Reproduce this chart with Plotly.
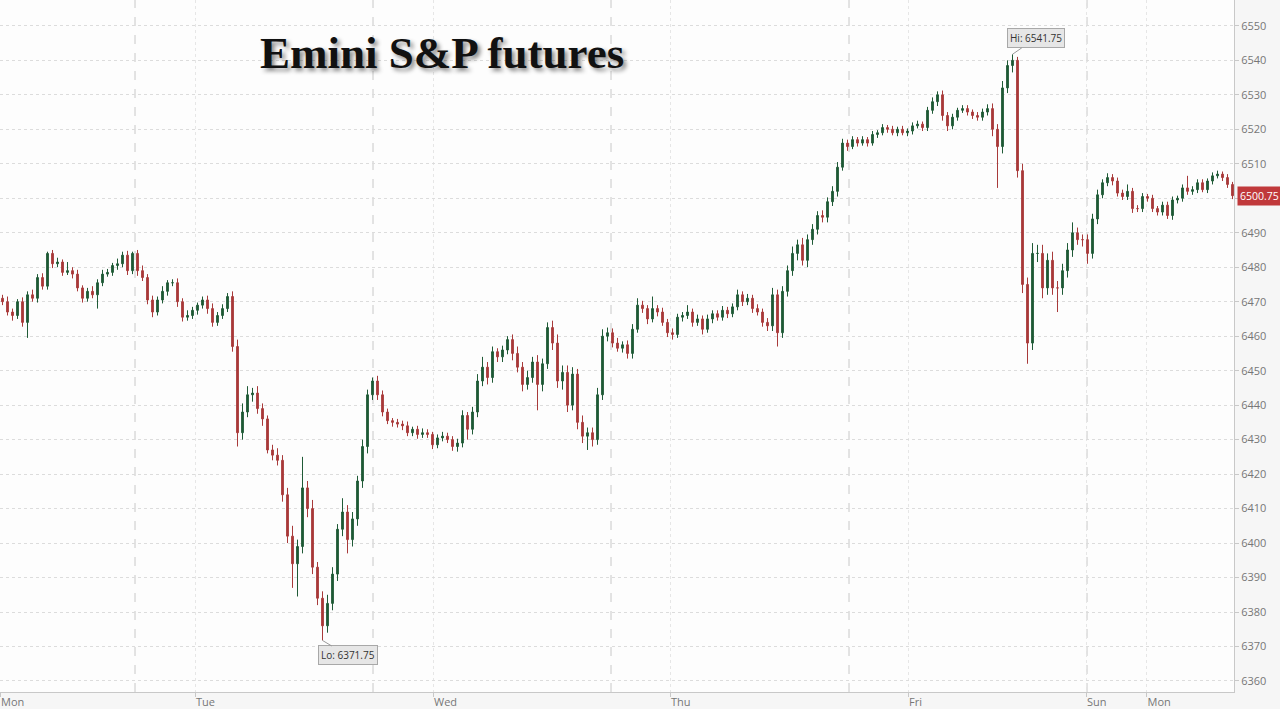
import plotly.graph_objects as go

# ---------------- data ----------------
first_open = 6471.0
close = [
    6470, 6467, 6466, 6470, 6464, 6472, 6471, 6477, 6474.5, 6484,
    6481, 6481.5, 6478.5, 6479, 6478, 6474, 6471, 6473, 6472, 6475.5,
    6478, 6478.5, 6480.5, 6481, 6483.5, 6479, 6484, 6479, 6477, 6470.5,
    6467, 6470.5, 6473, 6475.5, 6475.5, 6470, 6465.5, 6466, 6467.5, 6469,
    6470.5, 6468, 6464, 6466, 6468, 6471.5, 6457, 6432, 6438, 6443,
    6443.5, 6439, 6436, 6427, 6425.5, 6424, 6414, 6402, 6394, 6399,
    6416, 6410, 6393, 6384, 6376, 6382.5, 6391, 6404, 6409, 6401,
    6407, 6418, 6428, 6443, 6447, 6443, 6438, 6435.5, 6435, 6434.5,
    6434, 6432, 6433, 6431.5, 6432, 6431.5, 6428.5, 6430.5, 6431, 6430,
    6428, 6429, 6437, 6433, 6438, 6447, 6451, 6448, 6455.5, 6454,
    6456, 6459, 6455, 6451, 6446, 6448, 6452.5, 6446, 6452, 6462.5,
    6458, 6447, 6449.5, 6440, 6449, 6435, 6431, 6432, 6430, 6443,
    6460, 6461, 6458, 6456.5, 6457.5, 6455, 6462, 6469, 6468, 6465,
    6468, 6467, 6464, 6461, 6460.5, 6465.5, 6466, 6467, 6464, 6465,
    6462, 6465, 6466.5, 6465.5, 6467.5, 6466.5, 6468.5, 6472, 6470, 6471,
    6468, 6467, 6464, 6463, 6472, 6461, 6473, 6479, 6484, 6486.5,
    6482, 6488, 6491, 6495, 6494.5, 6499, 6502, 6509, 6516, 6515,
    6517, 6516, 6517, 6516, 6518.5, 6519, 6520.5, 6520, 6519, 6520,
    6519, 6519.5, 6521, 6521.5, 6520.5, 6525.5, 6528, 6530, 6524, 6521,
    6523.5, 6525.5, 6526, 6525, 6524, 6523.5, 6525, 6526, 6520, 6515,
    6532, 6538.5, 6540, 6508, 6475, 6458, 6484, 6484, 6474, 6482,
    6474, 6474, 6479, 6485, 6490, 6488, 6488, 6484, 6494, 6501,
    6504.5, 6506, 6505, 6501.5, 6500.5, 6502, 6497, 6497, 6500.5, 6500,
    6497, 6496, 6498, 6495, 6499.5, 6500, 6503, 6502, 6502.5, 6504.5,
    6502.5, 6505, 6506.5, 6507, 6506, 6504, 6500.75,
]
up_wick = [
    1, 1.5, 1, 0.75, 1.25, 1, 1.5, 1, 1.25, 0.5,
    1, 1.25, 0.75, 2.5, 1, 1.25, 0.75, 1, 1.5, 1,
    1.25, 1, 0.75, 1.5, 1, 1.25, 0.5, 1, 1.5, 1,
    1.25, 1, 1.5, 0.75, 1, 1.25, 1, 1.5, 1, 0.75,
    1, 1.25, 1.5, 1, 1.25, 1, 1.5, 2, 2.5, 2.5,
    1.5, 2, 1.5, 1, 1.5, 2, 1.5, 2, 3, 2,
    9, 2, 2.5, 1.5, 2, 2.5, 2, 1.5, 4, 2,
    2, 1.5, 2, 1.5, 1, 1.5, 1.25, 1, 0.75, 1,
    1, 1.25, 0.75, 1, 1.25, 1, 0.75, 1, 1.25, 1,
    1, 1.25, 1.5, 1, 1.5, 2, 3, 1.5, 1.5, 1,
    1.25, 1, 1.5, 2, 1.5, 2, 1.5, 2, 1.5, 1.5,
    2, 2.5, 2, 2, 2, 1.5, 2, 1.5, 1.5, 2,
    2, 1.5, 1.25, 1.5, 1, 1.25, 1.5, 2, 1.25, 1,
    3.5, 1, 1.25, 1, 1.25, 1, 1, 2, 1, 1.25,
    1, 1.25, 1, 1, 1.25, 1, 1, 1.5, 1, 1.25,
    1, 1.25, 1, 1.25, 2, 1.5, 1.5, 1.5, 2, 1.5,
    2, 1.5, 1.5, 1.25, 1.5, 1.25, 1.5, 1.5, 1.25, 1,
    1, 0.75, 1, 0.75, 1, 0.75, 1, 0.75, 1, 0.75,
    1, 0.75, 1, 1, 0.75, 1, 1.25, 1, 1.25, 1,
    1, 0.75, 1, 1, 0.75, 1, 1, 1.25, 1.5, 1.5,
    2, 1.5, 1.75, 1, 2, 2, 3, 2.5, 2.5, 2,
    2.5, 2, 2, 2, 3, 1.5, 1.5, 1.5, 1.5, 1.5,
    1, 1.25, 1, 1, 1, 2, 1, 1, 1, 0.75,
    1, 0.75, 1, 1, 1, 0.75, 1, 3.5, 1, 1,
    1, 0.75, 1, 1, 0.75, 1, 0.75,
]
down_wick = [
    1, 1, 1.5, 1, 1.25, 4.5, 1, 1.25, 1, 1,
    1.25, 1, 1, 0.75, 1.25, 1, 1.25, 1, 1, 4,
    1, 0.75, 1, 1.25, 1, 1.25, 1, 1.5, 1, 1.25,
    1.5, 1, 1, 1.25, 1, 1.5, 1.25, 1, 1, 1.25,
    1, 1.5, 1.25, 1, 1, 1, 1.5, 4, 2, 1.5,
    2, 1.5, 2, 1, 1.5, 1.5, 2, 2, 7, 9.5,
    2, 2.5, 2, 2, 4.25, 2, 2, 2, 2, 4,
    2, 2, 2, 2, 1.5, 1.5, 1.25, 1, 1.25, 1,
    1.25, 1, 1, 1.25, 1, 1, 1.25, 1, 1, 1,
    1.25, 1.5, 1.25, 3, 1.5, 1.5, 1.5, 2, 1.5, 1.5,
    1.5, 1.25, 2, 1.5, 2, 1.5, 1.5, 7.5, 2, 1.5,
    2, 2, 2.5, 2, 1.5, 2, 2, 4, 2, 1.5,
    1.5, 1.5, 1.25, 1, 1.25, 1.5, 1.5, 1, 1.25, 1.5,
    1, 1.25, 1, 1.25, 1.5, 1, 1.25, 1, 1.25, 1,
    1.5, 1, 1.25, 1, 1, 1.25, 1, 1, 1.25, 1,
    1.25, 1, 1.25, 1.5, 1.5, 4, 1.5, 1.5, 1.5, 2,
    1.5, 2, 1.5, 1.5, 1.5, 1.5, 1.25, 1.5, 1, 1.25,
    0.75, 1, 0.75, 1, 0.75, 1, 0.75, 1, 0.75, 1,
    0.75, 1, 1, 0.75, 1, 1, 1, 1.25, 1.5, 1.5,
    1, 1, 0.75, 1, 1, 1, 1, 1, 2, 12,
    2, 1.5, 2, 2, 2.5, 6, 2, 2.5, 3, 2,
    2, 7, 2, 2, 2, 1.5, 2, 3, 1.5, 1.5,
    1, 1, 1.25, 1, 1, 1, 1.25, 1, 1, 1,
    1, 1, 1, 1, 1.25, 1, 1, 1, 1, 1,
    0.75, 1, 1, 0.75, 1, 1, 1,
]
day_labels = ["Mon", "Tue", "Wed", "Thu", "Fri", "Sun", "Mon"]
title_text = "Emini S&P futures"

# ---------------- build OHLC ----------------
n = len(close)
assert len(up_wick) == n and len(down_wick) == n
opens = [first_open] + close[:-1]
highs = [max(o, c) + w for o, c, w in zip(opens, close, up_wick)]
lows = [min(o, c) - w for o, c, w in zip(opens, close, down_wick)]
x = list(range(n))

# axis positions (in bar units)
label_pos = [-0.5, 38.5, 86.1, 133.5, 181.1, 216.7, 228.8]
session_pos = [26.5, 74.1, 121.7, 169.3, 216.9]

UP = "#1f5a36"
DN = "#a83a3a"

fig = go.Figure()
fig.add_trace(go.Candlestick(
    x=x, open=opens, high=highs, low=lows, close=close,
    increasing=dict(line=dict(color=UP, width=1), fillcolor=UP),
    decreasing=dict(line=dict(color=DN, width=1), fillcolor=DN),
    whiskerwidth=0, showlegend=False, hoverinfo="skip",
))

shapes = [
    dict(type="line", xref="x", yref="paper", x0=p, x1=p, y0=0, y1=1,
         line=dict(color="#c8c8c8", width=1, dash="dash"), layer="below")
    for p in session_pos
]

hi_i = max(range(n), key=lambda i: highs[i])
lo_i = min(range(n), key=lambda i: lows[i])

box = dict(bgcolor="#e6e6e6", bordercolor="#a8a8a8", borderwidth=1, borderpad=2,
           font=dict(family="Open Sans", size=10, color="#333333"),
           showarrow=True, arrowhead=0, arrowwidth=1, arrowcolor="#9a9a9a", standoff=0)

annotations = [
    dict(text=title_text, xref="paper", yref="paper", x=0.358, y=0.923,
         xanchor="center", yanchor="middle", showarrow=False,
         font=dict(family="Liberation Serif", size=45, color="#111111",
                   weight="bold", shadow="3px 3px 4px rgba(0,0,0,0.45)")),
    dict(text=f"Hi: {highs[hi_i]:.2f}", x=hi_i, y=highs[hi_i], ax=23, ay=-16, **box),
    dict(text=f"Lo: {lows[lo_i]:.2f}", x=lo_i, y=lows[lo_i], ax=25, ay=15, **box),
    dict(text=f"{close[-1]:.2f}", xref="paper", yref="y", x=1, y=close[-1],
         xanchor="left", yanchor="middle", xshift=3, showarrow=False,
         bgcolor="#c0393b", borderpad=2,
         font=dict(family="Open Sans", size=10.5, color="#ffffff")),
]

fig.update_layout(
    width=1280, height=709,
    margin=dict(l=0, r=46, t=0, b=17),
    paper_bgcolor="#f6f6f6", plot_bgcolor="#fdfdfd",
    boxgap=0.5,
    shapes=shapes, annotations=annotations,
    xaxis=dict(
        range=[-0.5, 246.3], rangeslider=dict(visible=False),
        tickmode="array", tickvals=label_pos, ticktext=day_labels,
        ticklabelposition="outside right",
        ticks="outside", ticklen=4, tickcolor="#c8c8c8",
        showgrid=True, gridcolor="#e6e6e6", griddash="dot", gridwidth=1,
        showline=True, linecolor="#c8c8c8", zeroline=False,
        tickfont=dict(family="Open Sans", size=11, color="#777777"),
        fixedrange=True,
    ),
    yaxis=dict(
        side="right", range=[6356.8, 6557.5],
        tick0=6360, dtick=10,
        ticks="outside", ticklen=4, tickcolor="#c8c8c8",
        showgrid=True, gridcolor="#dcdcdc", griddash="dot", gridwidth=1,
        showline=True, linecolor="#c8c8c8", zeroline=False,
        tickfont=dict(family="Open Sans", size=11, color="#777777"),
        fixedrange=True,
    ),
)

fig.write_html(
    "out.html",
    config={"displayModeBar": False},
    post_script="document.body.style.margin='0px';document.body.style.overflow='hidden';",
)
